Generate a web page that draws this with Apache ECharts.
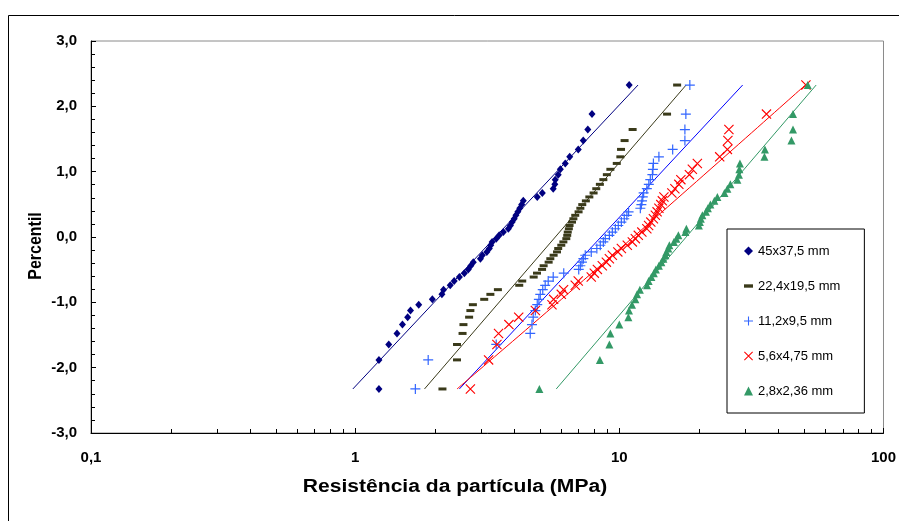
<!DOCTYPE html>
<html>
<head>
<meta charset="utf-8">
<script src="https://cdn.jsdelivr.net/npm/echarts@6/dist/echarts.min.js"></script>
<style>
html,body{margin:0;padding:0;background:#fff;}
#chart{width:899px;height:521px;}
</style>
</head>
<body>
<div id="chart"></div>
<script>
// Percentile (normal quantile) values shared by all series
const yPct = [-2.326,-1.881,-1.645,-1.476,-1.341,-1.227,-1.126,-1.036,-0.954,-0.878,-0.806,-0.739,-0.674,-0.613,-0.553,-0.496,-0.440,-0.385,-0.332,-0.279,-0.228,-0.176,-0.126,-0.075,-0.025,
              0.025,0.075,0.126,0.176,0.228,0.279,0.332,0.385,0.440,0.496,0.553,0.613,0.674,0.739,0.806,0.878,0.954,1.036,1.126,1.227,1.341,1.476,1.645,1.881,2.326];

const seriesNames = ['45x37,5 mm','22,4x19,5 mm','11,2x9,5 mm','5,6x4,75 mm','2,8x2,36 mm'];

const s45 = [1.23,1.23,1.34,1.44,1.51,1.58,1.62,1.74,1.96,2.13,2.16,2.29,2.37,2.48,2.59,2.68,2.74,2.80,2.98,3.03,3.15,3.22,3.26,3.30,3.42,3.51,3.64,3.80,3.87,3.93,4.00,4.06,4.13,4.20,4.27,4.33,4.89,5.11,5.62,5.70,5.72,5.87,5.98,6.24,6.49,6.99,7.30,7.60,7.88,10.9];
const s22 = [2.14,2.43,2.43,2.55,2.57,2.70,2.73,2.79,3.08,3.25,3.47,4.18,4.29,4.74,4.88,5.10,5.17,5.40,5.48,5.64,5.81,5.87,6.03,6.14,6.30,6.35,6.38,6.44,6.48,6.62,6.70,6.81,7.01,7.12,7.24,7.47,7.70,7.99,8.18,8.44,8.70,8.97,9.25,9.78,10.09,10.15,10.47,11.23,15.16,16.55];
const s11 = [1.69,1.89,3.42,4.60,4.67,4.72,4.81,4.89,4.96,5.02,5.13,5.24,5.38,5.62,6.16,7.02,7.12,7.22,7.31,7.43,7.83,8.22,8.47,8.70,8.85,9.17,9.41,9.66,9.91,10.18,10.44,10.68,10.84,12.01,12.12,12.19,12.27,12.36,12.71,12.93,13.10,13.34,13.40,13.46,14.12,15.92,17.71,17.71,17.86,18.49];
const s56 = [2.73,3.20,3.44,3.49,3.82,4.16,4.81,5.56,5.64,6.03,6.15,6.81,6.99,7.83,8.04,8.26,8.62,8.93,9.17,9.41,9.87,10.18,10.72,11.20,11.50,11.80,12.17,12.71,12.91,13.16,13.46,13.69,13.90,14.12,14.36,14.55,14.75,15.81,16.23,16.80,17.10,18.42,18.90,19.74,23.99,25.65,25.76,25.99,36.06,50.86];
const s28 = [4.98,8.44,9.17,9.25,10.00,10.82,10.88,11.17,11.50,11.67,11.96,12.73,12.91,13.22,13.51,13.75,14.12,14.43,14.68,14.94,15.07,15.33,15.47,16.09,16.44,16.73,17.78,17.94,20.00,20.18,20.35,20.62,21.27,21.64,22.12,22.90,23.50,25.00,25.65,26.33,27.99,28.36,28.48,28.61,35.43,35.58,44.83,45.43,45.43,51.68];

// Fitted trend lines (x values at the given percentiles)
const fitY = [-2.326, 2.326];
const fit45 = [0.98, 11.77];
const fit22 = [1.83, 17.9];
const fit11 = [2.48, 29.3];
const fit56Y = [-2.326, 0, 2.326];
const fit56 = [2.43, 11.3, 50.6];
const fit28 = [5.77, 55.6];

// Axis ticks
const xMinorTicks = [0.2,0.3,0.4,0.5,0.6,0.7,0.8,0.9,2,3,4,5,6,7,8,9,20,30,40,50,60,70,80,90];

const FONT = '"Liberation Sans", Arial, Helvetica, sans-serif';
const colors = {n45:'#000080', n22:'#3a3a1a', n11:'#3366ff', l11:'#0000ff', n56:'#ff0000', n28:'#339966'};

const dashPath = 'path://M0,0H8V3H0Z';
const plusPath = 'path://M0,4.4H10V5.6H0Z M4.4,0H5.6V10H4.4Z';
const xPath = 'path://M0,0.8L0.8,0L10,9.2L9.2,10Z M9.2,0L10,0.8L0.8,10L0,9.2Z';

function pts(xs, ys){ return xs.map((x,i)=>[x, ys[i]]); }

function scatter(name, xs, symbol, size, color){
  return {name, type:'scatter', data: pts(xs, yPct), symbol, symbolSize: size,
    itemStyle:{color, opacity:1}, z:3, silent:true, emphasis:{disabled:true}};
}
function fitLine(name, xs, ys, color, smooth){
  return {name, type:'line', data: pts(xs, ys), symbol:'none', showSymbol:false, smooth: smooth||false,
    lineStyle:{color, width:1}, z:2, silent:true, emphasis:{disabled:true}};
}

const chart = echarts.init(document.getElementById('chart'), null, {renderer:'canvas'});
const fmt = v => (Math.round(v*10)/10).toString().replace('.', ',');

chart.setOption({
  animation:false,
  backgroundColor:'#fff',
  grid:{left:91, right:15, top:41, bottom:88, show:true, borderColor:'#8a8a8a', borderWidth:1, backgroundColor:'transparent'},
  xAxis:{
    type:'log', logBase:10, min:0.1, max:100,
    axisLine:{show:true, onZero:false, lineStyle:{color:'#000', width:1}},
    axisTick:{show:true, inside:true, length:5, lineStyle:{color:'#000'}},
    minorTick:{show:false},
    axisLabel:{formatter: fmt, color:'#000', fontWeight:'bold', fontSize:15, fontFamily:FONT, margin:17},
    splitLine:{show:false}
  },
  yAxis:{
    type:'value', min:-3, max:3, interval:1,
    axisLine:{show:true, onZero:false, lineStyle:{color:'#000', width:1}},
    axisTick:{show:true, inside:true, length:5, lineStyle:{color:'#000'}},
    minorTick:{show:true, splitNumber:5, length:4, lineStyle:{color:'#000'}},
    axisLabel:{formatter: v => v.toFixed(1).replace('.', ','), color:'#000', fontWeight:'bold', fontSize:15, fontFamily:FONT, margin:14},
    splitLine:{show:false}, minorSplitLine:{show:false}
  },
  legend:{
    data: seriesNames, orient:'vertical', left:727, top:229,
    padding:[15,24,15,17], itemGap:21, itemWidth:9, itemHeight:9,
    backgroundColor:'#fff', borderColor:'#000', borderWidth:1, borderRadius:0,
    textStyle:{fontSize:13, color:'#000', fontFamily:FONT, lineHeight:14},
    selectedMode:false
  },
  graphic:[
    {type:'rect', shape:{x:8.5, y:15.5, width:1000, height:1000}, style:{fill:'none', stroke:'#000', lineWidth:1}, silent:true, z:-10},
    {type:'text', x:455, y:487, scaleX:1.17, style:{text:'Resistência da partícula (MPa)', font:'bold 18px '+FONT, fill:'#000', align:'center', verticalAlign:'middle'}},
    {type:'text', x:36, y:246, rotation:Math.PI/2, scaleY:1.17, style:{text:'Percentil', font:'bold 16px '+FONT, fill:'#000', align:'center', verticalAlign:'middle'}}
  ],
  series:[
    fitLine('fit45', fit45, fitY, colors.n45),
    fitLine('fit22', fit22, fitY, colors.n22),
    fitLine('fit11', fit11, fitY, colors.l11),
    fitLine('fit56', fit56, fit56Y, colors.n56, 0.4),
    fitLine('fit28', fit28, fitY, colors.n28),
    scatter(seriesNames[0], s45, 'diamond', [7,8], colors.n45),
    scatter(seriesNames[1], s22, dashPath, [8,3], colors.n22),
    scatter(seriesNames[2], s11, plusPath, 10, colors.n11),
    scatter(seriesNames[3], s56, xPath, 10, colors.n56),
    scatter(seriesNames[4], s28, 'triangle', 8, colors.n28),
    {
      name:'xMinorTicks', type:'custom', silent:true, z:5,
      data: xMinorTicks.map(v => [v, -3]),
      encode:{x:0, y:1},
      renderItem: function(params, api){
        const p = api.coord([api.value(0), api.value(1)]);
        const x = Math.round(p[0]) + 0.5;
        return {type:'line', shape:{x1:x, y1:p[1], x2:x, y2:p[1]-4}, style:{stroke:'#000', lineWidth:1}};
      }
    }
  ]
});
</script>
</body>
</html>
